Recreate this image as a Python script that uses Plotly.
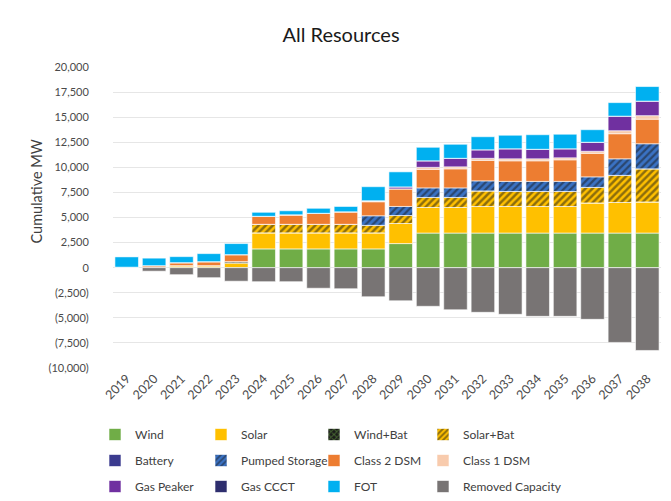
import plotly.graph_objects as go

years = ["2019", "2020", "2021", "2022", "2023", "2024", "2025", "2026", "2027", "2028",
         "2029", "2030", "2031", "2032", "2033", "2034", "2035", "2036", "2037", "2038"]

wind = [0, 0, 0, 0, 0, 1870, 1870, 1870, 1870, 1870, 2400, 3450, 3450, 3450, 3450, 3450, 3450, 3450, 3450, 3450]
solar = [0, 0, 200, 200, 450, 1600, 1600, 1600, 1600, 1600, 2000, 2550, 2550, 2650, 2650, 2650, 2650, 3000, 3050, 3100]
wind_bat = [0, 0, 0, 0, 150, 0, 0, 0, 0, 0, 0, 0, 0, 0, 0, 0, 0, 0, 0, 0]
solar_bat = [0, 0, 0, 0, 0, 850, 850, 850, 850, 750, 800, 1000, 1000, 1550, 1500, 1500, 1500, 1550, 2700, 3300]
battery = [0, 0, 0, 0, 0, 0, 0, 0, 0, 0, 0, 0, 0, 0, 0, 0, 0, 0, 0, 0]
pumped = [0, 0, 0, 0, 0, 0, 0, 0, 0, 950, 900, 950, 950, 1000, 1000, 1000, 1000, 1050, 1650, 2500]
dsm2 = [50, 200, 300, 400, 700, 800, 950, 1100, 1250, 1400, 1750, 1850, 1900, 2050, 2050, 2050, 2150, 2350, 2500, 2450]
dsm1 = [0, 0, 0, 0, 0, 0, 0, 0, 0, 100, 0, 200, 200, 200, 200, 200, 200, 200, 300, 350]
gas_peaker = [0, 0, 0, 0, 0, 0, 0, 0, 0, 0, 200, 650, 850, 850, 1000, 950, 900, 900, 1450, 1450]
gas_ccct = [0, 0, 0, 0, 0, 0, 0, 0, 0, 0, 0, 0, 0, 0, 0, 0, 0, 0, 0, 0]
fot = [1050, 750, 600, 800, 1100, 400, 400, 500, 530, 1400, 1500, 1350, 1400, 1300, 1350, 1450, 1450, 1250, 1350, 1450]
removed = [0, -350, -700, -1000, -1350, -1400, -1400, -2050, -2100, -2900, -3300, -3850, -4200, -4450, -4650,
           -4850, -4850, -5150, -7450, -8250]

tick_vals = [-10000, -7500, -5000, -2500, 0, 2500, 5000, 7500, 10000, 12500, 15000, 17500, 20000]
tick_text = ["(10,000)", "(7,500)", "(5,000)", "(2,500)", "0", "2,500", "5,000", "7,500",
             "10,000", "12,500", "15,000", "17,500", "20,000"]

FONT = "Lato"
W, H = 663, 493  # page body adds an 8px margin
L, R, T, B = 105, 10, 59, 133
PW = W - L - R

series = [
    ("Wind", wind, "#70AD47", None),
    ("Solar", solar, "#FFC000", None),
    ("Wind+Bat", wind_bat, "#1A1A1A", dict(shape="x", fgcolor="#70AD47", bgcolor="#1A1A1A", size=5, solidity=0.45)),
    ("Solar+Bat", solar_bat, "#FFC000", dict(shape="/", fgcolor="#1A1A1A", bgcolor="#FFC000", size=5, solidity=0.5)),
    ("Battery", battery, "#3B3B8F", None),
    ("Pumped Storage", pumped, "#3A72C4", dict(shape="/", fgcolor="#1A1A1A", bgcolor="#3A72C4", size=5, solidity=0.45)),
    ("Class 2 DSM", dsm2, "#ED7D31", None),
    ("Class 1 DSM", dsm1, "#F8CBAD", None),
    ("Gas Peaker", gas_peaker, "#7030A0", None),
    ("Gas CCCT", gas_ccct, "#2E2E6E", None),
    ("FOT", fot, "#00B0F0", None),
    ("Removed Capacity", removed, "#787474", None),
]

legend_names = ["legend", "legend2", "legend3", "legend4"]

fig = go.Figure()
for i, (name, vals, color, pattern) in enumerate(series):
    marker = dict(color=color, line=dict(color="white", width=0.6))
    if pattern is not None:
        marker["pattern"] = pattern
    fig.add_trace(go.Bar(name=name, x=years, y=vals, marker=marker,
                         legend=legend_names[i % 4], legendgroup=name))

col_x = [87, 193, 306, 415]
legend_top = 412

def make_legend(xpix):
    return dict(
        orientation="v",
        xref="paper", yref="container",
        x=(xpix - L) / PW, xanchor="left",
        y=1 - legend_top / H, yanchor="top",
        font=dict(family=FONT, size=12, color="#404040"),
        itemwidth=30, bgcolor="rgba(0,0,0,0)",
        traceorder="grouped", tracegroupgap=7,
    )

fig.update_layout(
    width=W, height=H,
    barmode="relative",
    bargap=0.14,
    paper_bgcolor="white", plot_bgcolor="white",
    margin=dict(l=L, r=R, t=T, b=B),
    title=dict(text="All Resources", x=333 / W, xref="container", xanchor="center",
               y=1 - 27 / H, yref="container", yanchor="middle",
               font=dict(family=FONT, size=20, color="#1a1a1a")),
    font=dict(family=FONT),
    legend=make_legend(col_x[0]),
    legend2=make_legend(col_x[1]),
    legend3=make_legend(col_x[2]),
    legend4=make_legend(col_x[3]),
    annotations=[dict(
        text="Cumulative MW", textangle=-90, showarrow=False,
        xref="paper", yref="paper",
        x=(27.5 - L) / PW, y=(H - B - 184) / (H - B - T),
        xanchor="center", yanchor="middle",
        font=dict(family=FONT, size=14.5, color="#404040"),
    )],
)

fig.update_yaxes(
    range=[-10000, 20000],
    tickvals=tick_vals, ticktext=tick_text,
    tickfont=dict(family=FONT, size=11, color="#4a4a4a"),
    ticks="outside", ticklen=21, tickcolor="rgba(0,0,0,0)",
    showgrid=True, gridcolor="#E6E6E6", gridwidth=1,
    zeroline=False, showline=False,
    automargin=False,
)
fig.update_xaxes(
    type="category",
    tickangle=-45,
    tickfont=dict(family=FONT, size=12.5, color="#4a4a4a"),
    showgrid=False, showline=False, zeroline=False,
    automargin=False,
)

fig.write_html("out.html")
